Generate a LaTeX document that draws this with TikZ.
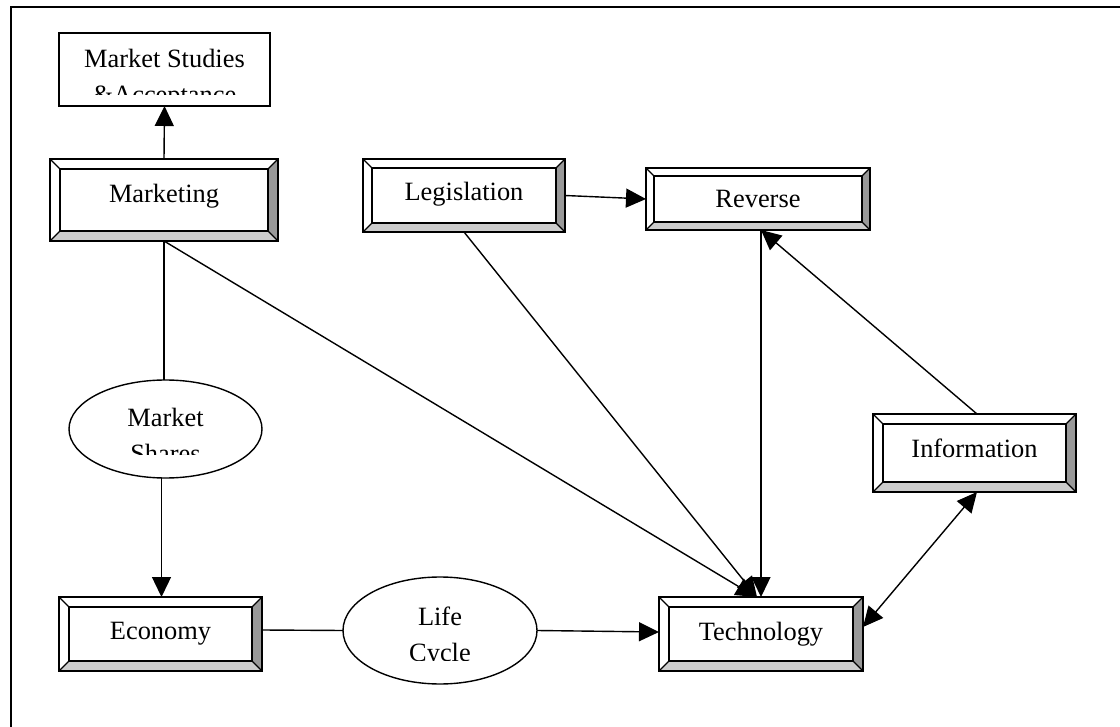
\documentclass[tikz,border=0pt]{standalone}
\usepackage{fontspec}
\setmainfont{Liberation Serif}
\usetikzlibrary{arrows.meta,shapes.geometric}
\definecolor{bevdark}{HTML}{999999}
\definecolor{bevlight}{HTML}{CCCCCC}
\newcommand\tf{\fontsize{26.4}{36}\selectfont}
% #1 name, #2 x1, #3 y1, #4 x2, #5 y2, #6 bevel, #7 baseline y, #8 text
\newcommand\bevbox[8]{%
  \fill[white] (#2,#3) rectangle (#4,#5);
  \fill[bevdark] (#4,#3) -- (#4,#5) -- ({#4-#6},{#5-#6}) -- ({#4-#6},{#3+#6}) -- cycle;
  \fill[bevlight] (#2,#5) -- (#4,#5) -- ({#4-#6},{#5-#6}) -- ({#2+#6},{#5-#6}) -- cycle;
  \draw[diag] (#2,#3) -- ({#2+#6},{#3+#6}) (#4,#3) -- ({#4-#6},{#3+#6})
              (#2,#5) -- ({#2+#6},{#5-#6}) (#4,#5) -- ({#4-#6},{#5-#6});
  \draw[boxline] ({#2+#6},{#3+#6}) rectangle ({#4-#6},{#5-#6});
  \node[boxnode, minimum width={(#4-#2)*1pt}, minimum height={(#5-#3)*1pt}] (#1) at ({(#2+#4)/2},{(#3+#5)/2}) {};
  \node[txt] (#1-t) at ({(#2+#4)/2},#7) {#8};
}
\tikzset{
  boxnode/.style={draw, line width=2pt, rectangle, inner sep=0pt, outer sep=0pt},
  boxline/.style={line width=2pt},
  diag/.style={line width=1.1pt},
  txt/.style={font=\tf, anchor=base, inner sep=0pt},
  conn/.style={line width=1.4pt},
  arr/.style={conn, -{Triangle[length=20pt,width=19pt]}},
  darr/.style={conn, {Triangle[length=20pt,width=19pt]}-{Triangle[length=20pt,width=19pt]}},
  ell/.style={ellipse, draw, line width=1.4pt, inner sep=0pt, outer sep=0pt},
}
\begin{document}
\begin{tikzpicture}[x=1pt,y=-1pt]
\useasboundingbox (0,0) rectangle (1120,727);
\fill[white] (0,0) rectangle (1120,727);
% frame
\draw[line width=2pt] (11,727) -- (11,7) -- (1120,7);

% Market Studies box
\node[boxnode, minimum width=211pt, minimum height=73pt] (msa) at (164.5,69.5) {};
\begin{scope}
  \clip (59,33) rectangle (270,95);
  \node[txt] (msa-t1) at (164.5,68) {Market Studies};
  \node[txt] (msa-t2) at (164.5,104) {\&Acceptance};
\end{scope}

% beveled boxes
\bevbox{mkt}{50}{159}{278}{241}{10}{203}{Marketing}
\bevbox{leg}{363}{159}{565}{232}{9}{201}{Legislation}
\bevbox{rev}{646}{168}{870}{230}{8}{208}{Reverse}
\bevbox{info}{873}{414}{1076}{492}{10}{457}{Information}
\bevbox{eco}{59}{597}{262}{671}{10}{639}{Economy}
\bevbox{tech}{659}{597}{863}{671}{10}{640}{Technology}

% ellipses
\node[ell, minimum width=193pt, minimum height=98pt] (shares) at (165.5,429) {};
\begin{scope}
  \clip (69,380) rectangle (262,454);
  \node[txt] (shares-t1) at (165.5,427) {Market};
  \node[txt] (shares-t2) at (165.5,463) {Shares};
\end{scope}
\node[ell, minimum width=194pt, minimum height=107pt] (life) at (440,630.5) {};
\begin{scope}
  \clip (343,577) rectangle (537,660.5);
  \node[txt] (life-t1) at (440,625) {Life};
  \node[txt] (life-t2) at (440,661) {Cycle};
\end{scope}

% connectors
\draw[arr] (mkt.north) -- (msa.south);
\draw[conn] (mkt.south) -- ([xshift=-1.5pt]shares.north);
\draw[arr] ([xshift=-4pt]shares.south) -- ([xshift=1pt]eco.north);
\draw[conn] ([yshift=4pt]eco.east) -- (life.west);
\draw[arr] (life.east) -- ([yshift=2pt]tech.west);
\draw[arr] (mkt.south) -- ([xshift=-5pt]tech.north);
\draw[arr] (leg.south) -- ([xshift=-4pt]tech.north);
\draw[arr] ([xshift=3pt]rev.south) -- (tech.north);
\draw[arr] (leg.east) -- (rev.west);
\draw[arr] ([xshift=2.5pt]info.north) -- ([xshift=3pt]rev.south);
\draw[darr] ([yshift=7pt]tech.east) -- ([xshift=2.5pt]info.south);
\end{tikzpicture}
\end{document}
